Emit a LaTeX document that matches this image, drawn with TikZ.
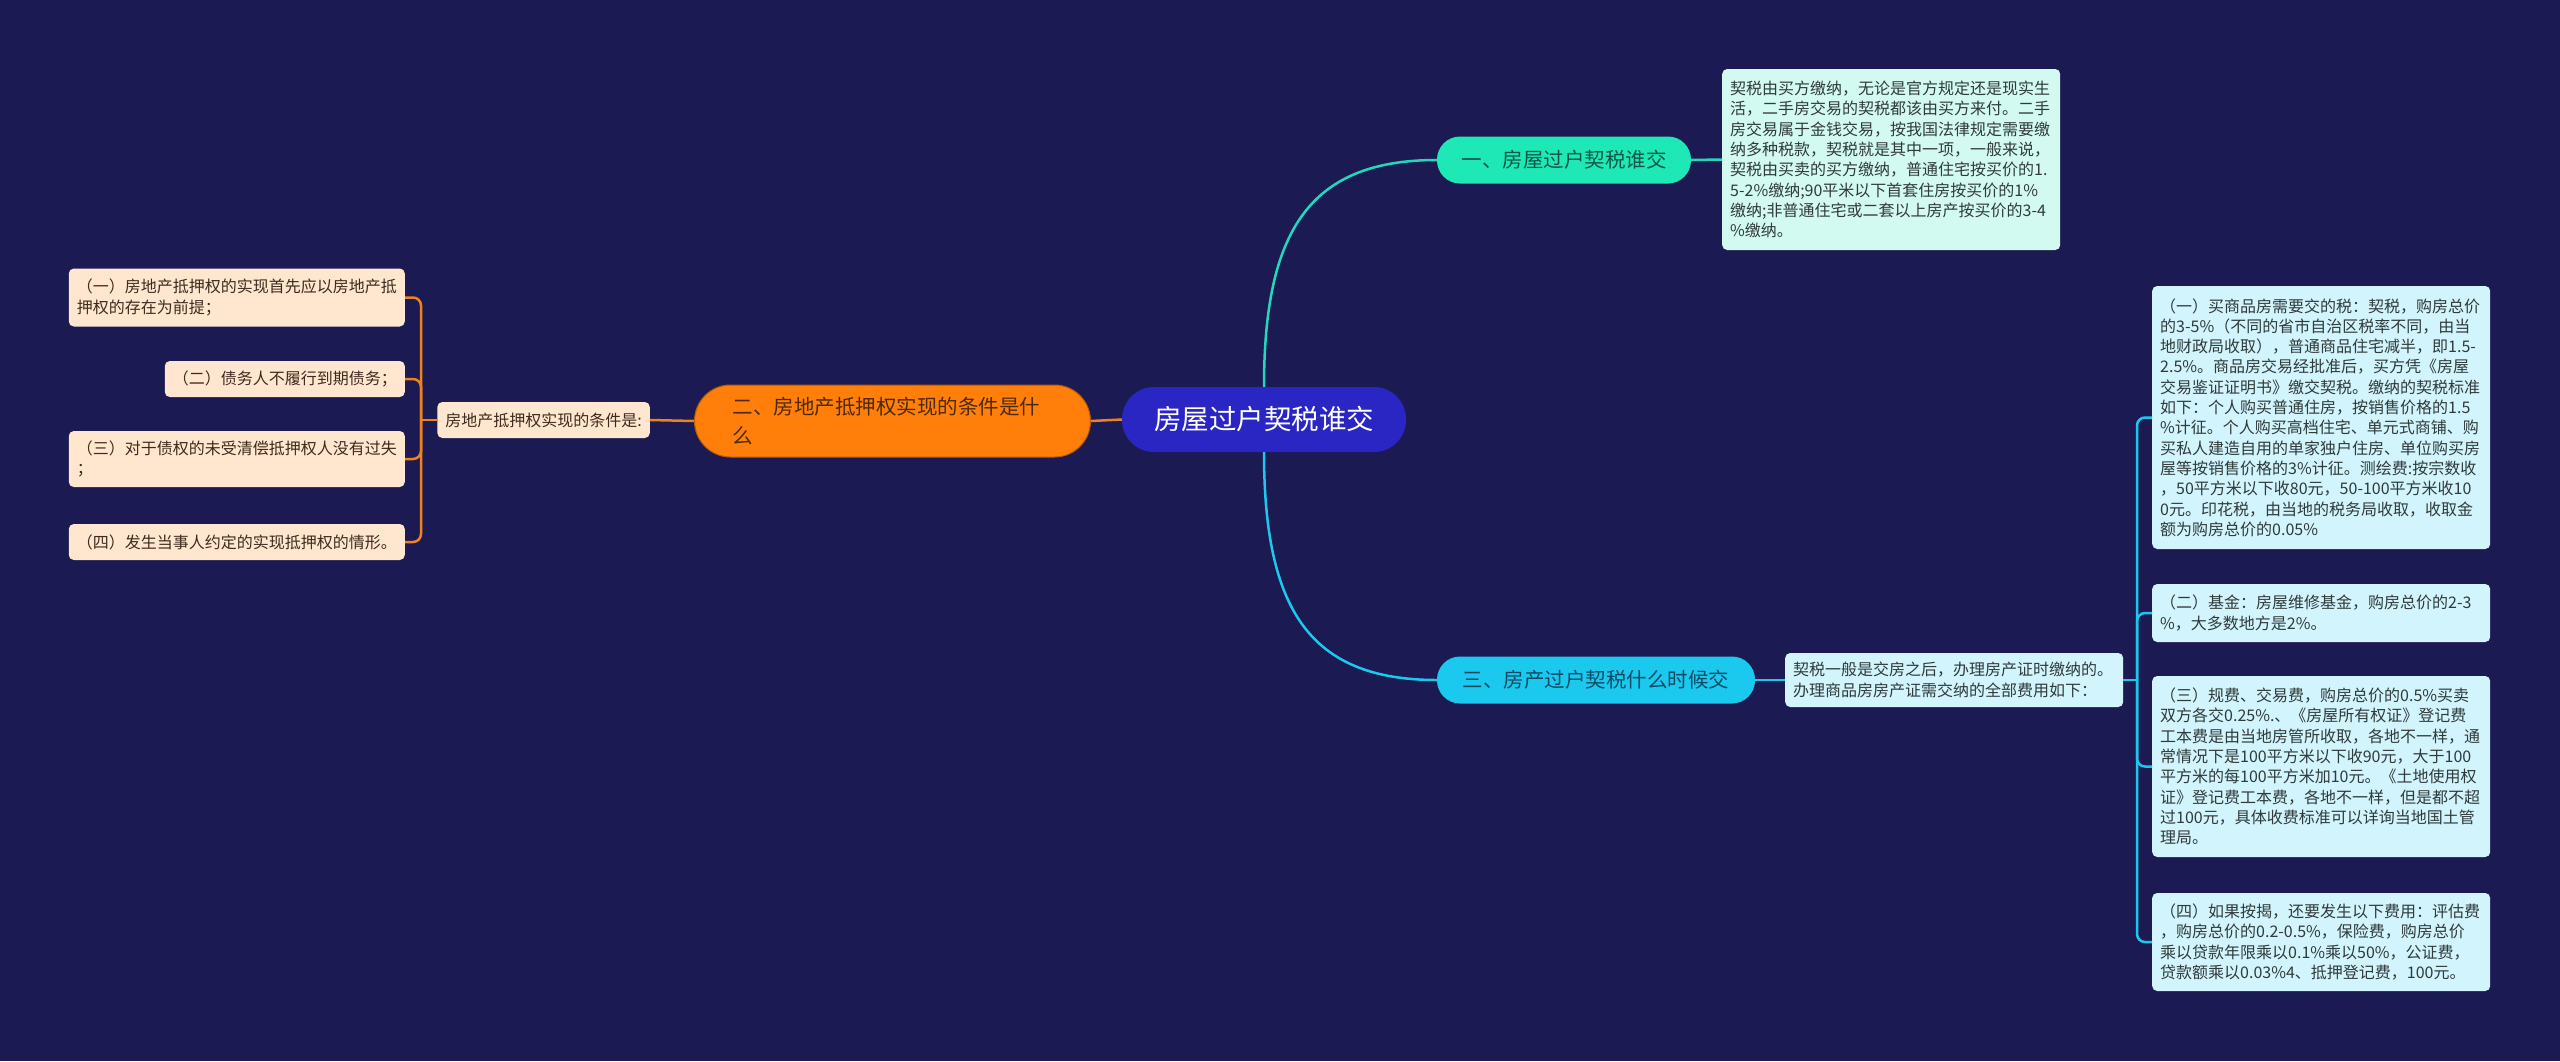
\documentclass[tikz,border=0pt]{standalone}
\usepackage{fontspec}
\setmainfont{Noto Sans CJK SC}
\usetikzlibrary{positioning, calc}
\definecolor{bgnavy}{HTML}{1B1A52}
\definecolor{rootblue}{HTML}{2A26C4}
\definecolor{mintgreen}{HTML}{1EE8B6}
\definecolor{mintline}{HTML}{22D8BC}
\definecolor{mintlight}{HTML}{D3FAF1}
\definecolor{skycyan}{HTML}{1BC9EF}
\definecolor{skylight}{HTML}{D2F4FC}
\definecolor{pumpkin}{HTML}{FF7F0A}
\definecolor{pumpkindark}{HTML}{B85A00}
\definecolor{pumpkinline}{HTML}{F0821E}
\definecolor{peach}{HTML}{FFE7CF}
\definecolor{inkdark}{HTML}{2F3A3A}
\definecolor{inkbrown}{HTML}{3D2B1F}
\definecolor{inkgreen}{HTML}{0F5646}
\definecolor{inkblue}{HTML}{0C4A63}
\definecolor{inkorange}{HTML}{4E2A05}

\begin{document}
\begin{tikzpicture}[
    x=1pt, y=-1pt,
    root/.style={fill=rootblue, text=white, rounded corners=32pt, minimum width=284pt, minimum height=65pt, inner sep=0pt, font=\fontsize{27.5}{33}\selectfont},
    topic/.style={rounded corners=23pt, minimum height=47pt, inner sep=0pt, font=\fontsize{20.5}{29}\selectfont},
    leaf/.style={rounded corners=5pt, align=left, inner xsep=8pt, inner ysep=3pt, font=\fontsize{16}{20.3}\selectfont},
    wideleaf/.style={leaf, text width=322pt},
    link/.style={line width=2.5pt},
]
    \fill[bgnavy] (0,0) rectangle (2560,1061);
    \useasboundingbox (0,0) rectangle (2560,1061);

    % Root and topics
    \node[root] (root) at (1264, 419.5) {房屋过户契税谁交};

    \node[topic, fill=mintgreen, text=inkgreen, minimum width=254pt] (buyer) at (1564, 160) {一、房屋过户契税谁交};

    \node[topic, fill=skycyan, text=inkblue, minimum width=318pt] (when) at (1596, 680) {三、房产过户契税什么时候交};

    \node[topic, fill=pumpkin, draw=pumpkindark, line width=1pt, text=inkorange, rounded corners=36pt, minimum height=72pt, text width=320pt, inner xsep=38pt, align=left] (cond) at (892.5, 421) {二、房地产抵押权实现的条件是什\\么};

    % Left side
    \node[leaf, fill=peach, text=inkbrown, anchor=east, minimum height=36pt] (condlabel) at (650, 420) {房地产抵押权实现的条件是:};

    \node[leaf, fill=peach, text=inkbrown, anchor=east, minimum height=58pt] (left1) at (405, 297.5) {（一）房地产抵押权的实现首先应以房地产抵\\押权的存在为前提；};
    \node[leaf, fill=peach, text=inkbrown, anchor=east, minimum height=36pt] (left2) at (405, 379) {（二）债务人不履行到期债务；};
    \node[leaf, fill=peach, text=inkbrown, anchor=east, minimum height=56pt] (left3) at (405, 459) {（三）对于债权的未受清偿抵押权人没有过失\\；};
    \node[leaf, fill=peach, text=inkbrown, anchor=east, minimum height=36pt] (left4) at (405, 542) {（四）发生当事人约定的实现抵押权的情形。};

    % Right side
    \node[wideleaf, fill=mintlight, text=inkdark, anchor=west, minimum height=181pt] (buyertext) at (1722, 159.5) {契税由买方缴纳，无论是官方规定还是现实生\\活，二手房交易的契税都该由买方来付。二手\\房交易属于金钱交易，按我国法律规定需要缴\\纳多种税款，契税就是其中一项，一般来说，\\契税由买卖的买方缴纳，普通住宅按买价的1.\\5-2\%缴纳;90平米以下首套住房按买价的1\%\\缴纳;非普通住宅或二套以上房产按买价的3-4\\\%缴纳。};

    \node[wideleaf, fill=skylight, text=inkdark, anchor=west, minimum height=54pt] (whentext) at (1785, 680) {契税一般是交房之后，办理房产证时缴纳的。\\办理商品房房产证需交纳的全部费用如下：};

    \node[wideleaf, fill=skylight, text=inkdark, anchor=west, minimum height=263pt] (right1) at (2152, 417.5) {（一）买商品房需要交的税：契税，购房总价\\的3-5\%（不同的省市自治区税率不同，由当\\地财政局收取），普通商品住宅减半，即1.5-\\2.5\%。商品房交易经批准后，买方凭《房屋\\交易鉴证证明书》缴交契税。缴纳的契税标准\\如下：个人购买普通住房，按销售价格的1.5\\\%计征。个人购买高档住宅、单元式商铺、购\\买私人建造自用的单家独户住房、单位购买房\\屋等按销售价格的3\%计征。测绘费:按宗数收\\，50平方米以下收80元，50-100平方米收10\\0元。印花税，由当地的税务局收取，收取金\\额为购房总价的0.05\%};
    \node[wideleaf, fill=skylight, text=inkdark, anchor=west, minimum height=58pt] (right2) at (2152, 613) {（二）基金：房屋维修基金，购房总价的2-3\\\%，大多数地方是2\%。};
    \node[wideleaf, fill=skylight, text=inkdark, anchor=west, minimum height=181pt] (right3) at (2152, 766.5) {（三）规费、交易费，购房总价的0.5\%买卖\\双方各交0.25\%.、《房屋所有权证》登记费\\工本费是由当地房管所收取，各地不一样，通\\常情况下是100平方米以下收90元，大于100\\平方米的每100平方米加10元。《土地使用权\\证》登记费工本费，各地不一样，但是都不超\\过100元，具体收费标准可以详询当地国土管\\理局。};
    \node[wideleaf, fill=skylight, text=inkdark, anchor=west, minimum height=98pt] (right4) at (2152, 942) {（四）如果按揭，还要发生以下费用：评估费\\，购房总价的0.2-0.5\%，保险费，购房总价\\乘以贷款年限乘以0.1\%乘以50\%，公证费，\\贷款额乘以0.03\%4、抵押登记费，100元。};

    \coordinate (leftjoin) at (421, 420);
    \coordinate (rightjoin) at (2137, 680);

    % Links
    \draw[link, mintline] (root.north) .. controls (1264, 230) and (1310, 160) .. (buyer.west);
    \draw[link, skycyan] (root.south) .. controls (1264, 610) and (1310, 680) .. (when.west);
    \draw[link, pumpkinline] (root.west) -- (cond.east);
    \draw[link, pumpkinline] (cond.west) -- (condlabel.east);
    \draw[link, pumpkinline] (condlabel.west) -- (leftjoin);
    \foreach \leaf in {left1, left2, left3, left4}
        \draw[link, pumpkinline, rounded corners=8pt] (leftjoin) |- (\leaf.east);
    \draw[link, mintline] (buyer.east) -- (buyertext.west);
    \draw[link, skycyan] (when.east) -- (whentext.west);
    \draw[link, skycyan] (whentext.east) -- (rightjoin);
    \foreach \leaf in {right1, right2, right3, right4}
        \draw[link, skycyan, rounded corners=8pt] (rightjoin) |- (\leaf.west);

\end{tikzpicture}
\end{document}
